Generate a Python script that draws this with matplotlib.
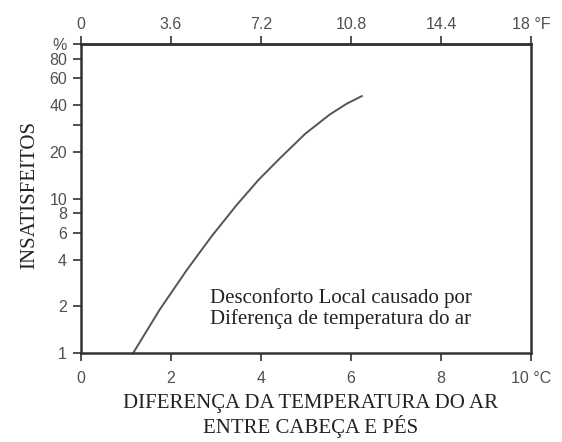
import matplotlib.pyplot as plt
import numpy as np

# curva: diferença de temperatura (°C) x insatisfeitos (%)
dt_c = [1.16, 1.75, 2.35, 2.90, 3.46, 3.94, 4.42, 4.98, 5.53, 5.90, 6.24]
insatisfeitos = [1.0, 1.91, 3.44, 5.68, 9.08, 13.15, 18.2, 26.2, 35.0, 41.0, 46.0]

x_ticks = [0, 2, 4, 6, 8, 10]
x_labels = ["0", "2", "4", "6", "8", "10 °C"]
f_ticks = [0, 3.6, 7.2, 10.8, 14.4, 18]
f_labels = ["0", "3.6", "7.2", "10.8", "14.4", "18 °F"]
y_ticks = [1, 2, 4, 6, 8, 10, 20, 30, 40, 60, 80, 100]
y_labels = ["1", "2", "4", "6", "8", "10", "20", "", "40", "60", "80", "%"]

sans = "Liberation Sans"
serif = "Liberation Serif"
cinza = "#505050"
escuro = "#222222"

fig = plt.figure(figsize=(5.62, 4.42), dpi=100)
ax = fig.add_axes([0.1441, 0.2014, 0.8007, 0.699])

ax.plot(dt_c, insatisfeitos, color="#555555", lw=1.4, solid_joinstyle="round")

ax.set_yscale("log")
ax.set_xlim(0, 10)
ax.set_ylim(1, 100)

ax.set_xticks(x_ticks)
ax.set_xticklabels(x_labels, family=sans, fontsize=11.5, color=cinza)
ax.set_yticks(y_ticks)
ax.set_yticklabels(y_labels, family=sans, fontsize=11.5, color=cinza)
ax.yaxis.set_minor_locator(plt.NullLocator())
ax.tick_params(axis="both", direction="out", length=6, width=1.2, color="#333333")
ax.tick_params(axis="x", pad=7)
ax.tick_params(axis="y", pad=4)

for s in ax.spines.values():
    s.set_color("#333333")
    s.set_linewidth(1.8)

# eixo superior em Fahrenheit
sec = ax.secondary_xaxis("top", functions=(lambda c: c * 1.8, lambda f: f / 1.8))
sec.set_xticks(f_ticks)
sec.set_xticklabels(f_labels, family=sans, fontsize=11.5, color=cinza)
sec.tick_params(direction="out", length=6, width=1.2, color="#333333", pad=3)
sec.spines["top"].set_linewidth(1.8)
sec.spines["top"].set_color("#333333")

ax.set_xlabel("DIFERENÇA DA TEMPERATURA DO AR\nENTRE CABEÇA E PÉS",
              family=serif, fontsize=15, color=escuro, linespacing=1.1, va="center")
ax.xaxis.set_label_coords(0.511, -0.204)
ax.set_ylabel("INSATISFEITOS", family=serif, fontsize=15, color=escuro, va="center")
ax.yaxis.set_label_coords(-0.113, 0.511)

ax.text(2.87, 1.94, "Desconforto Local causado por\nDiferença de temperatura do ar",
        family=serif, fontsize=15, color=escuro, va="center", ha="left", linespacing=1.1)

fig.savefig("out.png", dpi=100)
